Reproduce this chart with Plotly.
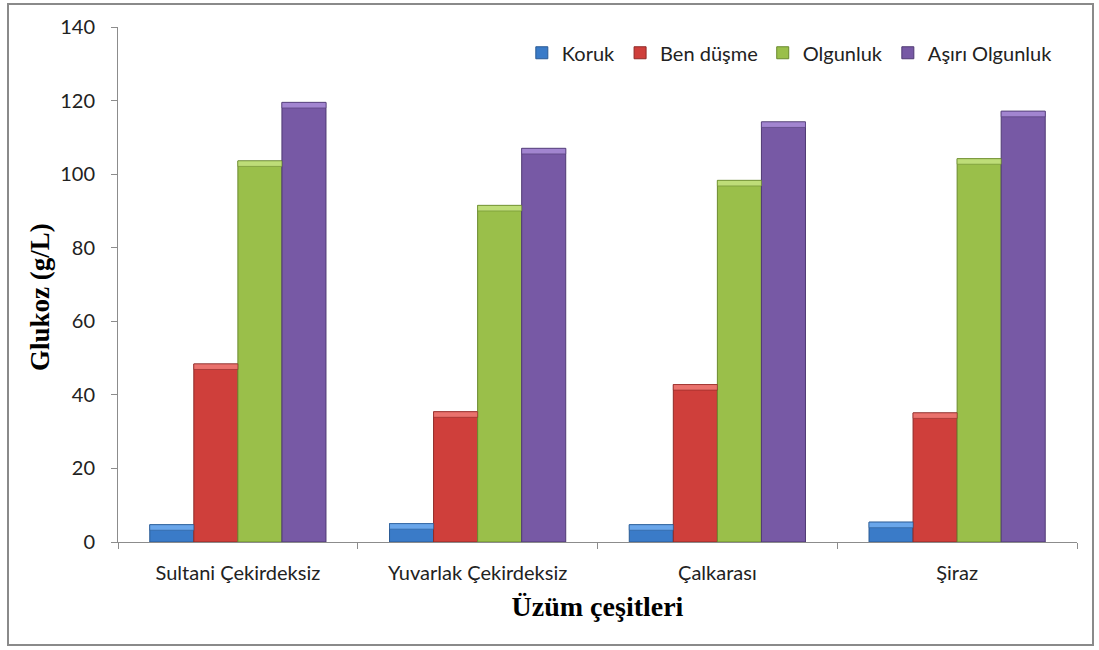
import plotly.graph_objects as go

# Grape varieties and glucose content (g/L) at four ripening stages
varieties = ["Sultani Çekirdeksiz", "Yuvarlak Çekirdeksiz", "Çalkarası", "Şiraz"]
stages = ["Koruk", "Ben düşme", "Olgunluk", "Aşırı Olgunluk"]

koruk = [4.7, 5.0, 4.7, 5.4]
ben_dusme = [48.4, 35.4, 42.8, 35.1]
olgunluk = [103.6, 91.5, 98.3, 104.2]
asiri_olgunluk = [119.5, 107.0, 114.2, 117.1]

series = [koruk, ben_dusme, olgunluk, asiri_olgunluk]
fill_colors = ["#3a7bc8", "#cf3f3b", "#9abf4a", "#7759a5"]
edge_colors = ["#2a5a94", "#8f2a27", "#6a8a2e", "#4f3a73"]
bevel_colors = ["#6aa6ea", "#ea726d", "#bedd78", "#a285d0"]

BEVEL = 1.5  # height of the lighter bevel strip on top of each bar (y units)

W, H = 1099, 650
M_L, M_R, M_T, M_B = 118, 22, 27, 108

fig = go.Figure()
for i, (name, vals) in enumerate(zip(stages, series)):
    fig.add_trace(go.Bar(
        name=name, x=varieties, y=vals, offsetgroup=str(i),
        marker=dict(color=fill_colors[i], line=dict(color=edge_colors[i], width=1)),
    ))
for i, vals in enumerate(series):
    fig.add_trace(go.Bar(
        x=varieties, y=[BEVEL] * len(vals), base=[v - BEVEL for v in vals],
        offsetgroup=str(i), showlegend=False, hoverinfo="skip",
        marker=dict(color=bevel_colors[i], line=dict(color=edge_colors[i], width=0.6)),
    ))

tick_font = dict(family="Lato, Open Sans, sans-serif", size=20, color="#222222")
legend_font = dict(family="Lato, Open Sans, sans-serif", size=20, color="#222222")
serif = "Liberation Serif, Times New Roman, serif"

pw = W - M_L - M_R
ph = H - M_T - M_B

fig.update_layout(
    width=W, height=H,
    margin=dict(l=M_L, r=M_R, t=M_T, b=M_B, autoexpand=False),
    paper_bgcolor="white", plot_bgcolor="white",
    barmode="group", bargap=0.265, bargroupgap=0,
    legend=dict(
        orientation="h", x=0.98, xanchor="right", y=0.95, yanchor="middle",
        font=legend_font, itemwidth=30, traceorder="normal",
        bgcolor="rgba(0,0,0,0)",
    ),
    xaxis=dict(
        showline=True, linecolor="#8c8c8c", linewidth=1,
        ticks="outside", tickson="boundaries", ticklen=6, tickcolor="#8c8c8c",
        tickfont=tick_font, ticklabelstandoff=13, showgrid=False,
        title=dict(text="<b>Üzüm çeşitleri</b>",
                   font=dict(family=serif, size=28, color="#000000"), standoff=13),
    ),
    yaxis=dict(
        range=[0, 140], dtick=20, showline=True, linecolor="#8c8c8c", linewidth=1,
        ticks="outside", ticklen=6, tickcolor="#8c8c8c",
        tickfont=tick_font, ticklabelstandoff=12, showgrid=False, zeroline=False,
    ),
)

# Y-axis title, set slightly below the plot centre
fig.add_annotation(
    text="<b>Glukoz (g/L)</b>", textangle=-90, showarrow=False,
    xref="paper", yref="paper", x=(40 - M_L) / pw, y=(H - M_B - 297) / ph,
    xanchor="center", yanchor="middle",
    font=dict(family=serif, size=27, color="#000000"),
)

# Outer frame around the chart
fig.add_shape(
    type="rect", xref="paper", yref="paper",
    x0=(8 - M_L) / pw, x1=(W - 6 - M_L) / pw,
    y0=-(H - 5 - (H - M_B)) / ph, y1=1 + (M_T - 4) / ph,
    line=dict(color="#8a8a8a", width=2), fillcolor="rgba(0,0,0,0)", layer="below",
)

fig.write_html("out.html")
